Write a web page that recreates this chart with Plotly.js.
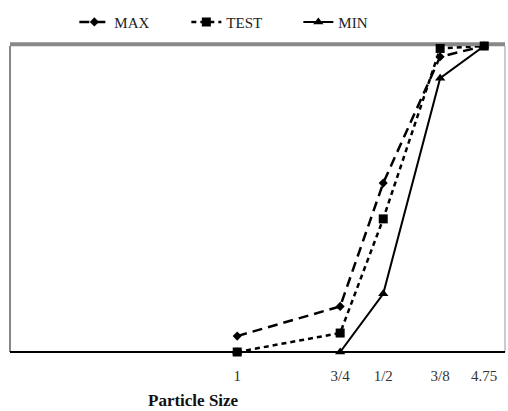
<!DOCTYPE html>
<html>
<head>
<meta charset="utf-8">
<script src="https://cdn.plot.ly/plotly-3.0.1.min.js"></script>
<style>html,body{margin:0;padding:0;background:#fff;}#chart{width:508px;height:411px;}</style>
</head>
<body>
<div id="chart"></div>
<script>
// Sieve labels and their positions along the x axis (axis units 0-100)
const sieveLabels = ['1', '3/4', '1/2', '3/8', '4.75'];
const sievePos = [45.9, 66.7, 75.4, 86.9, 95.8];

// Percent passing
const maxVals = [5.2, 14.9, 55.2, 96.5, 100];
const testVals = [0, 6.2, 43.5, 99.2, 100];
const minVals = [0, 0, 19.0, 89.5, 100];

const serif = 'Liberation Serif, Times New Roman, serif';

const traces = [
  {name: 'MAX', x: sievePos, y: maxVals, mode: 'lines+markers', cliponaxis: false,
   line: {color: '#000', width: 2.5, dash: '10px,6px'},
   marker: {symbol: 'diamond', size: 7, color: '#000'}},
  {name: 'TEST', x: sievePos, y: testVals, mode: 'lines+markers', cliponaxis: false,
   line: {color: '#000', width: 2.5, dash: '5px,4px'},
   marker: {symbol: 'square', size: 9, color: '#000'}},
  {name: 'MIN', x: sievePos, y: minVals, mode: 'lines+markers', cliponaxis: false,
   line: {color: '#000', width: 2},
   marker: {symbol: 'triangle-up', size: 9, color: '#000'}}
];

const layout = {
  width: 508, height: 411,
  margin: {l: 10, r: 3, t: 46, b: 59},
  paper_bgcolor: '#fff', plot_bgcolor: '#fff',
  font: {family: serif, size: 14, color: '#222'},
  showlegend: true,
  legend: {orientation: 'h', x: 0.13, xanchor: 'left', y: 1.078, yanchor: 'middle',
           font: {family: serif, size: 15, color: '#222'}, entrywidth: 67, entrywidthmode: 'pixels',
           itemwidth: 30, bgcolor: 'rgba(0,0,0,0)'},
  xaxis: {range: [0, 100], tickmode: 'array', tickvals: sievePos, ticktext: sieveLabels,
          showgrid: false, zeroline: false, showline: false, ticks: '',
          ticklabelstandoff: 13, tickfont: {family: serif, size: 15, color: '#333'}},
  yaxis: {range: [0, 100], showgrid: false, zeroline: false, showline: false,
          showticklabels: false, ticks: ''},
  shapes: [
    {type: 'line', xref: 'paper', yref: 'paper', x0: 0, x1: 0, y0: 0, y1: 1, line: {color: '#888', width: 2}, layer: 'below'},
    {type: 'line', xref: 'paper', yref: 'paper', x0: 1, x1: 1, y0: 0, y1: 1, line: {color: '#999', width: 1}, layer: 'below'},
    {type: 'line', xref: 'paper', yref: 'paper', x0: 0, x1: 1, y0: 1.006, y1: 1.006, line: {color: '#888', width: 4}, layer: 'below'},
    {type: 'line', xref: 'paper', yref: 'paper', x0: 0, x1: 1, y0: 0, y1: 0, line: {color: '#000', width: 2}, layer: 'below'}
  ],
  annotations: [
    {text: '<b>Particle Size</b>', xref: 'paper', yref: 'paper', x: 0.37, y: -0.157,
     xanchor: 'center', yanchor: 'middle', showarrow: false,
     font: {family: serif, size: 17, color: '#111'}}
  ]
};

Plotly.newPlot('chart', traces, layout, {displayModeBar: false, staticPlot: true});
</script>
</body>
</html>
